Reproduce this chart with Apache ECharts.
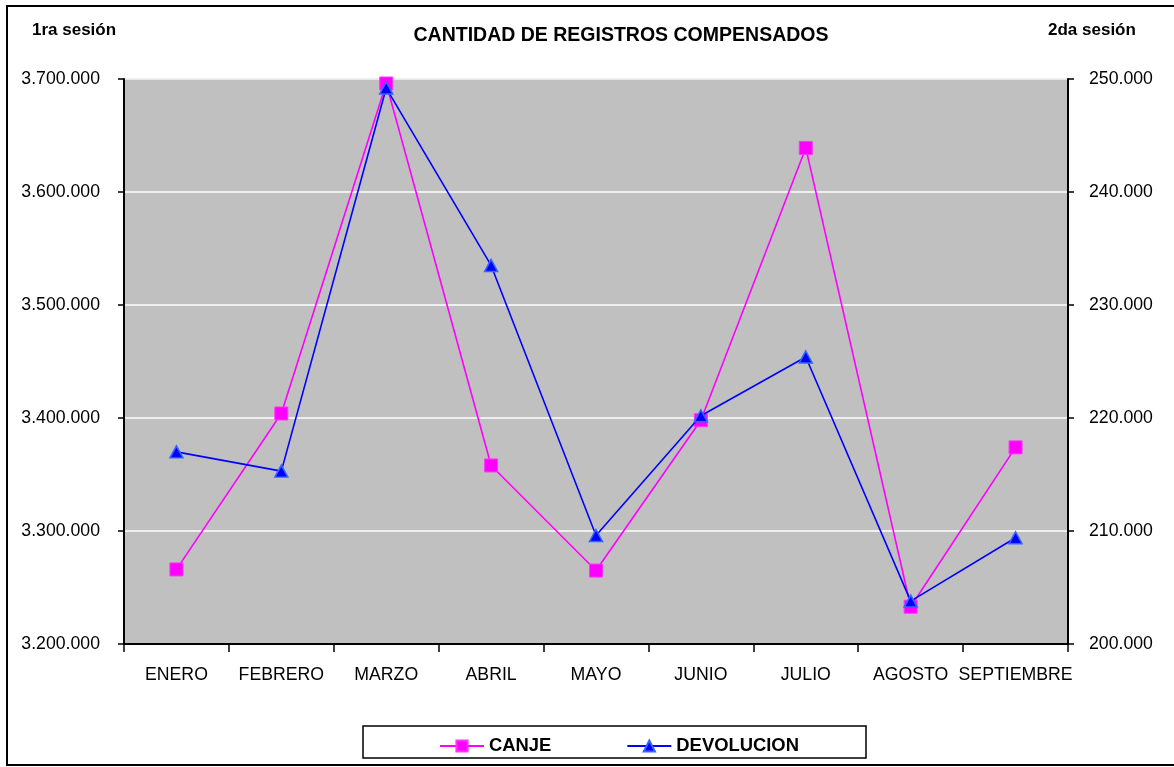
<!DOCTYPE html>
<html>
<head>
<meta charset="utf-8">
<script src="https://cdn.jsdelivr.net/npm/echarts@6/dist/echarts.min.js"></script>
<style>
  html, body { margin: 0; padding: 0; background: #fff; }
  #chart { width: 1174px; height: 767px; }
</style>
</head>
<body>
<div id="chart"></div>
<script>
// datos
var meses = ["ENERO", "FEBRERO", "MARZO", "ABRIL", "MAYO", "JUNIO", "JULIO", "AGOSTO", "SEPTIEMBRE"];
var canje = [3266000, 3404000, 3696000, 3358000, 3265000, 3398000, 3639000, 3233000, 3374000];
var devolucion = [217000, 215300, 249200, 233500, 209600, 220200, 225400, 203800, 209400];

// numero con punto de miles
function miles(v) {
  return String(Math.round(v)).replace(/\B(?=(\d{3})+(?!\d))/g, ".");
}

var chart = echarts.init(document.getElementById("chart"));
var fuente = "Liberation Sans, Arial, sans-serif";

chart.setOption({
  animation: false,
  textStyle: { fontFamily: fuente },
  title: {
    text: "CANTIDAD DE REGISTROS COMPENSADOS",
    left: 616,
    textAlign: "center",
    top: 21,
    textStyle: { fontSize: 19.5, fontWeight: "bold", color: "#000", fontFamily: fuente }
  },
  graphic: [
    {
      type: "rect",
      shape: { x: 7, y: 6, width: 1190, height: 759 },
      style: { fill: null, stroke: "#000", lineWidth: 2 },
      silent: true
    },
    {
      type: "rect",
      shape: { x: 363, y: 726, width: 503, height: 32 },
      style: { fill: "#fff", stroke: "#000", lineWidth: 1.5 },
      z: -1,
      silent: true
    },
    {
      type: "text",
      left: 32,
      top: 22,
      style: { text: "1ra sesión", font: "bold 17px " + fuente, fill: "#000" }
    },
    {
      type: "text",
      left: 1048,
      top: 22,
      style: { text: "2da sesión", font: "bold 17px " + fuente, fill: "#000" }
    }
  ],
  legend: {
    left: 434,
    top: 732,
    itemWidth: 44,
    itemHeight: 14,
    itemGap: 75,
    textStyle: { fontSize: 18.4, fontWeight: "bold", color: "#000" },
    data: ["CANJE", "DEVOLUCION"]
  },
  grid: {
    left: 124,
    right: 106,
    top: 79,
    bottom: 123,
    show: true,
    backgroundColor: "#C0C0C0",
    borderColor: "#808080",
    borderWidth: 1
  },
  xAxis: {
    type: "category",
    boundaryGap: true,
    data: meses,
    axisLine: { lineStyle: { color: "#000", width: 2 } },
    axisTick: { show: true, length: 8, interval: 0, lineStyle: { color: "#000", width: 1.5 } },
    axisLabel: { interval: 0, color: "#000", fontSize: 17.7, margin: 22, fontFamily: fuente }
  },
  yAxis: [
    {
      type: "value",
      min: 3200000,
      max: 3700000,
      interval: 100000,
      axisLine: { show: true, lineStyle: { color: "#000", width: 2 } },
      axisTick: { show: true, length: 6, lineStyle: { color: "#000", width: 1.5 } },
      axisLabel: { color: "#000", fontSize: 17.7, margin: 24, fontFamily: fuente, formatter: miles },
      splitLine: { show: true, lineStyle: { color: "#fff", width: 1.5 } }
    },
    {
      type: "value",
      min: 200000,
      max: 250000,
      interval: 10000,
      position: "right",
      axisLine: { show: true, lineStyle: { color: "#000", width: 2 } },
      axisTick: { show: true, length: 6, lineStyle: { color: "#000", width: 1.5 } },
      axisLabel: { color: "#000", fontSize: 17.7, margin: 21, fontFamily: fuente, formatter: miles },
      splitLine: { show: false }
    }
  ],
  series: [
    {
      name: "CANJE",
      type: "line",
      yAxisIndex: 0,
      data: canje,
      symbol: "rect",
      symbolSize: 13,
      itemStyle: { color: "#FF00FF", borderColor: "#FF33FF", borderWidth: 1 },
      lineStyle: { color: "#FF00FF", width: 1.6 },
      z: 2
    },
    {
      name: "DEVOLUCION",
      type: "line",
      yAxisIndex: 1,
      data: devolucion,
      symbol: "triangle",
      symbolSize: [13, 12],
      itemStyle: { color: "#0000FF", borderColor: "#3366FF", borderWidth: 1.5 },
      lineStyle: { color: "#0000FF", width: 1.6 },
      z: 3
    }
  ]
});
</script>
</body>
</html>
